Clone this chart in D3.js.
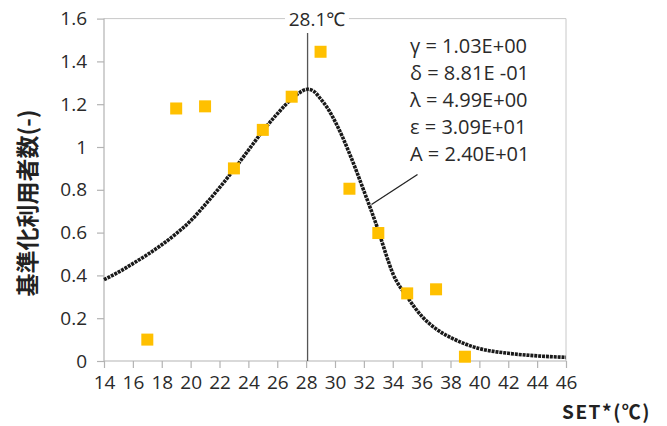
<!DOCTYPE html>
<html><head><meta charset="utf-8">
<script src="https://cdn.jsdelivr.net/npm/d3@7"></script>
<style>body{margin:0;background:#fff}svg{display:block}</style>
</head><body>
<svg id="c" width="667" height="426"></svg>
<script>
// Observed data (squares)
const obsX = [17, 19, 21, 23, 25, 27, 29, 31, 33, 35, 37, 39];
const obsY = [0.10, 1.18, 1.19, 0.90, 1.08, 1.235, 1.445, 0.805, 0.598, 0.316, 0.335, 0.02];
// Fitted curve
const fitX = [14, 15, 16, 17, 18, 19, 20, 21, 22, 23, 24, 25, 26, 27, 27.5, 28.1, 28.5, 29, 29.5, 30, 30.5, 31, 31.5, 32, 32.5, 33, 33.5, 34, 35, 36, 37, 38, 39, 40, 42, 44, 46];
const fitY = [0.38, 0.415, 0.455, 0.497, 0.543, 0.595, 0.655, 0.73, 0.81, 0.895, 0.985, 1.075, 1.155, 1.225, 1.252, 1.27, 1.262, 1.225, 1.18, 1.12, 1.05, 0.97, 0.885, 0.795, 0.705, 0.61, 0.505, 0.41, 0.30, 0.21, 0.15, 0.11, 0.08, 0.058, 0.036, 0.024, 0.017];
const xTicks = [14, 16, 18, 20, 22, 24, 26, 28, 30, 32, 34, 36, 38, 40, 42, 44, 46];
const yTicks = [0, 0.2, 0.4, 0.6, 0.8, 1, 1.2, 1.4, 1.6];
const peakX = 28.1;
const peakLabel = "28.1℃";
const paramLines = ["γ = 1.03E+00", "δ = 8.81E -01", "λ = 4.99E+00", "ε = 3.09E+01", "A = 2.40E+01"];
const yTitle = "基準化利用者数(-)";
const xTitle = "SET*(℃)";

const svg = d3.select("#c");
const x = d3.scaleLinear().domain([14, 46]).range([104, 566]);
const y = d3.scaleLinear().domain([0, 1.6]).range([361, 18.6]);
const font = "'Open Sans', 'Noto Sans', sans-serif";
const axisCol = "#b3b3b3";
const txtCol = "#2a2a2a";

// frame (top & right)
svg.append("path")
  .attr("d", `M${x(14)},${y(1.6)}H${x(46)}V${y(0)}`)
  .attr("fill", "none").attr("stroke", "#c8c8c8").attr("stroke-width", 1);

// y axis
const ya = svg.append("g").attr("transform", `translate(${x(14)},0)`)
  .call(d3.axisLeft(y).tickValues(yTicks).tickSize(7).tickPadding(10).tickFormat(d => d3.format("")(+d.toFixed(1))));
// x axis
const xa = svg.append("g").attr("transform", `translate(0,${y(0)})`)
  .call(d3.axisBottom(x).tickValues(xTicks).tickSize(7).tickPadding(8));
[ya, xa].forEach(g => {
  g.select(".domain").attr("stroke", axisCol).attr("stroke-width", 1.2);
  g.selectAll(".tick line").attr("stroke", axisCol).attr("stroke-width", 1.2);
  g.selectAll("text").attr("fill", txtCol).style("font-family", font).style("font-size", "19px");
});
ya.select(".domain").attr("d", `M-0,${y(1.6)}V${y(0)}`);
xa.select(".domain").attr("d", `M${x(14)},0H${x(46)}`);

// vertical line at peak
svg.append("line")
  .attr("x1", x(peakX)).attr("x2", x(peakX))
  .attr("y1", 33).attr("y2", y(0))
  .attr("stroke", "#555").attr("stroke-width", 1.3);

// peak label with white background
svg.append("rect").attr("x", 285).attr("y", 9).attr("width", 64).attr("height", 20).attr("fill", "#fff");
svg.append("text").attr("x", 317).attr("y", 19).attr("dy", "0.35em")
  .attr("text-anchor", "middle").attr("fill", txtCol)
  .style("font-family", font).style("font-size", "19px").text(peakLabel);

// fitted curve (dotted)
const pts = fitX.map((d, i) => [d, fitY[i]]);
svg.append("path")
  .attr("d", d3.line().x(d => x(d[0])).y(d => y(d[1])).curve(d3.curveMonotoneX)(pts))
  .attr("fill", "none").attr("stroke", "#1a1a1a").attr("stroke-width", 3.6)
  .attr("stroke-dasharray", "3,0.9");

// observed squares
const s = 12;
svg.append("g").selectAll("rect").data(obsX.map((d, i) => [d, obsY[i]])).join("rect")
  .attr("x", d => x(d[0]) - s / 2).attr("y", d => y(d[1]) - s / 2)
  .attr("width", s).attr("height", s).attr("fill", "#FFC000");

// leader line
svg.append("line").attr("x1", 417.5).attr("y1", 174.5).attr("x2", 371.5).attr("y2", 204.5)
  .attr("stroke", "#222").attr("stroke-width", 1.3);

// parameter text
svg.append("g").selectAll("text").data(paramLines).join("text")
  .attr("x", 410).attr("y", (d, i) => 46 + i * 27).attr("dy", "0.35em")
  .attr("fill", txtCol).style("font-family", font).style("font-size", "20px")
  .text(d => d);

// y title
svg.append("text").attr("transform", "translate(28,203) rotate(-90)")
  .attr("text-anchor", "middle").attr("dy", "0.35em").attr("fill", "#222")
  .style("font-family", "'Noto Sans CJK JP', sans-serif").style("font-weight", "bold").style("font-size", "23px")
  .text(yTitle);

// x title
svg.append("text").attr("x", 651).attr("y", 412).attr("dy", "0.35em").attr("text-anchor", "end")
  .attr("fill", "#222").attr("letter-spacing", "1.5px")
  .style("font-family", "'Noto Sans CJK JP', sans-serif").style("font-weight", "bold").style("font-size", "19px")
  .text(xTitle);
</script>
</body></html>
